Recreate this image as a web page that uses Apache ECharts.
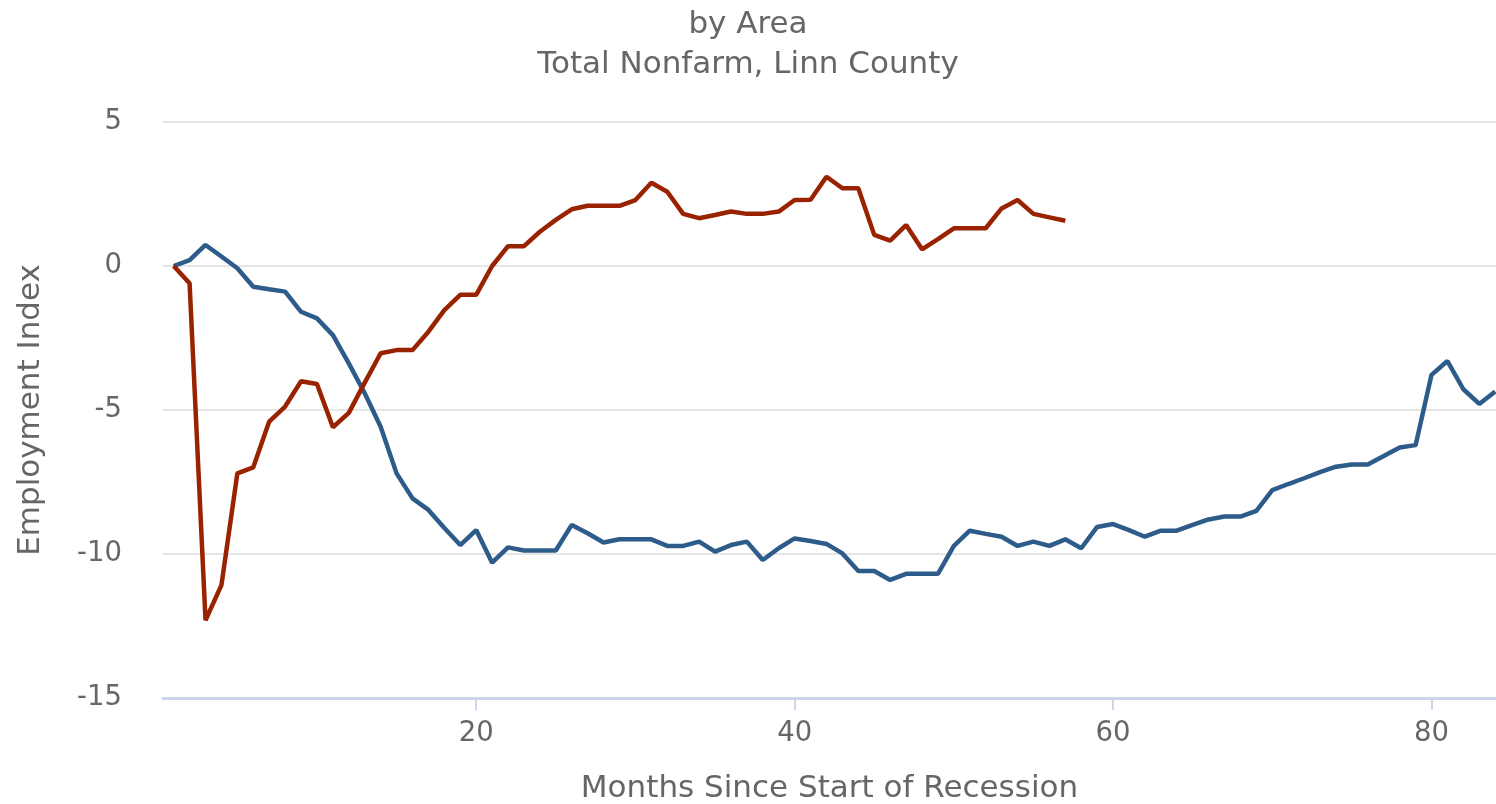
<!DOCTYPE html>
<html>
<head>
<meta charset="utf-8">
<title>Total Nonfarm, Linn County</title>
<script src="https://cdn.jsdelivr.net/npm/echarts@6/dist/echarts.min.js"></script>
<style>
  html, body { margin: 0; padding: 0; background: #fff; }
  #chart { width: 1496px; height: 804px; }
</style>
</head>
<body>
<div id="chart"></div>
<script>
// 月份（衰退开始后的月数）
const months = [];
for (let m = 1; m <= 84; m++) months.push(m);

// 蓝线 - 就业指数
const blueValues = [
  0, 0.2, 0.73, 0.33, -0.08, -0.72, -0.81, -0.89, -1.59, -1.82,
  -2.4, -3.38, -4.42, -5.58, -7.2, -8.07, -8.47, -9.1, -9.69, -9.17,
  -10.3, -9.77, -9.88, -9.88, -9.88, -8.99, -9.28, -9.6, -9.49, -9.49,
  -9.49, -9.72, -9.72, -9.57, -9.92, -9.69, -9.57, -10.21, -9.8, -9.46,
  -9.55, -9.65, -9.98, -10.59, -10.59, -10.9, -10.69, -10.69, -10.69, -9.72,
  -9.19, -9.3, -9.4, -9.72, -9.57, -9.72, -9.49, -9.8, -9.06, -8.96,
  -9.17, -9.4, -9.19, -9.19, -8.99, -8.8, -8.7, -8.7, -8.5, -7.78,
  -7.57, -7.37, -7.16, -6.97, -6.89, -6.89, -6.6, -6.3, -6.22, -3.78,
  -3.3, -4.28, -4.79, -4.36
];

// 红线 - 就业指数
const redValues = [
  0, -0.6, -12.3, -11.08, -7.2, -6.99, -5.4, -4.88, -4.0, -4.1,
  -5.6, -5.1, -4.05, -3.03, -2.92, -2.92, -2.28, -1.53, -1.0, -1.0,
  0.0, 0.69, 0.69, 1.19, 1.6, 1.97, 2.09, 2.09, 2.09, 2.29,
  2.89, 2.58, 1.81, 1.66, 1.77, 1.89, 1.81, 1.81, 1.89, 2.29,
  2.3, 3.1, 2.7, 2.7, 1.08, 0.88, 1.42, 0.58, 0.93, 1.31,
  1.31, 1.31, 2.0, 2.29, 1.81, 1.69, 1.57
];

const xTicks = [20, 40, 60, 80];
const yTicks = [-15, -10, -5, 0, 5];

const titleLines = ['by Area', 'Total Nonfarm, Linn County'];
const xAxisName = 'Months Since Start of Recession';
const yAxisName = 'Employment Index';

// 组合成 [x, y] 点
function toPoints(vals) {
  return vals.map((v, i) => [months[i], v]);
}

const textColor = '#666666';
const fontFamily = '"DejaVu Sans", sans-serif';

let chart = echarts.init(document.getElementById('chart'), null, { renderer: 'canvas' });

let option = {
  animation: false,
  backgroundColor: '#ffffff',
  title: {
    text: titleLines.join('\n'),
    left: 'center',
    top: 0,
    textStyle: {
      color: textColor,
      fontFamily: fontFamily,
      fontWeight: 'normal',
      fontSize: 31,
      lineHeight: 40
    }
  },
  grid: {
    left: 163,
    right: 0,
    top: 122,
    bottom: 106,
    containLabel: false,
    outerBoundsMode: 'none'
  },
  xAxis: {
    type: 'value',
    z: 2,
    min: 0.33,
    max: 84.05,
    name: xAxisName,
    nameLocation: 'middle',
    nameGap: 75,
    nameTextStyle: { color: textColor, fontFamily: fontFamily, fontSize: 31 },
    axisLine: { show: true, onZero: false, lineStyle: { color: '#ccd6eb', width: 3 } },
    axisTick: {
      show: true,
      length: 12,
      customValues: xTicks,
      lineStyle: { color: '#ccd6eb', width: 2 }
    },
    axisLabel: {
      customValues: xTicks,
      margin: 22,
      color: textColor,
      fontFamily: fontFamily,
      fontSize: 27.5
    },
    splitLine: { show: false }
  },
  yAxis: {
    type: 'value',
    min: yTicks[0],
    max: yTicks[yTicks.length - 1],
    interval: 5,
    name: yAxisName,
    nameLocation: 'middle',
    nameGap: 117,
    nameRotate: 90,
    nameTextStyle: { color: textColor, fontFamily: fontFamily, fontSize: 31 },
    axisLine: { show: false },
    axisTick: { show: false },
    axisLabel: {
      margin: 41,
      color: textColor,
      fontFamily: fontFamily,
      fontSize: 27.5
    },
    splitLine: { show: true, lineStyle: { color: '#e6e6e6', width: 2 } }
  },
  series: [
    {
      name: 'Linn County',
      type: 'line',
      data: toPoints(blueValues),
      showSymbol: false,
      lineStyle: { color: '#2e5c8a', width: 4.5 },
      itemStyle: { color: '#2e5c8a' }
    },
    {
      name: 'Comparison',
      type: 'line',
      data: toPoints(redValues),
      showSymbol: false,
      lineStyle: { color: '#992200', width: 4.5 },
      itemStyle: { color: '#992200' }
    }
  ]
};

chart.setOption(option);
</script>
</body>
</html>
